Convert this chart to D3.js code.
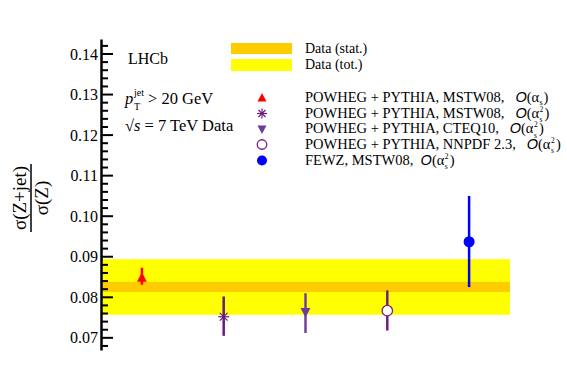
<!DOCTYPE html>
<html>
<head>
<meta charset="utf-8">
<script src="https://cdn.jsdelivr.net/npm/d3@7"></script>
<style>
  body { margin: 0; background: #fff; }
  svg text { font-family: "Liberation Serif", "DejaVu Serif", serif; fill: #000; }
</style>
</head>
<body>
<div id="chart"></div>
<script>
// ratio sigma(Z+jet)/sigma(Z) : data band and model predictions

const dataCentral = 0.0826
const dataStat = [0.0813, 0.0838]
const dataTot = [0.0757, 0.0894]

const models = ["MSTW08 O(as)", "MSTW08 O(as2)", "CTEQ10", "NNPDF 2.3", "FEWZ"]
const modelValues = [0.0848, 0.0752, 0.0764, 0.0767, 0.0937]
const modelLow = [0.0831, 0.0705, 0.0712, 0.0718, 0.0825]
const modelHigh = [0.0873, 0.0802, 0.0810, 0.0817, 0.1050]

const yTicks = [0.07, 0.08, 0.09, 0.10, 0.11, 0.12, 0.13, 0.14]

const W = 567, H = 391
const svg = d3.select("#chart").append("svg")
  .attr("width", W).attr("height", H)

const x = d3.scaleLinear().domain([0, 5]).range([101, 510])
const y = d3.scaleLinear().domain([0.067, 0.1437]).range([350, 39])

// data bands
svg.append("rect")
  .attr("x", x(0)).attr("width", x(5) - x(0))
  .attr("y", y(dataTot[1])).attr("height", y(dataTot[0]) - y(dataTot[1]))
  .attr("fill", "#ffff00")
svg.append("rect")
  .attr("x", x(0)).attr("width", x(5) - x(0))
  .attr("y", y(dataStat[1])).attr("height", y(dataStat[0]) - y(dataStat[1]))
  .attr("fill", "#ffcc00")

// y axis with major and minor ticks
const yAxis = d3.axisLeft(y).tickValues(yTicks).tickSize(0).tickPadding(3)
  .tickFormat(d3.format(".2f"))
const ga = svg.append("g").attr("transform", `translate(${x(0)},0)`).call(yAxis)
ga.attr("font-family", null).attr("font-size", null)
ga.select(".domain").attr("stroke", "#000").attr("stroke-width", 2.5)
ga.selectAll("text")
  .style("font-size", "16px")
  .style("font-family", "'Liberation Serif', 'DejaVu Serif', serif")
const minor = d3.range(0.068, 0.1437, 0.002)
svg.append("g").selectAll("line").data(minor).join("line")
  .attr("x1", x(0)).attr("x2", d => x(0) + (Math.abs(d * 100 - Math.round(d * 100)) < 1e-6 ? 12 : 7))
  .attr("y1", d => y(d)).attr("y2", d => y(d))
  .attr("stroke", "#000").attr("stroke-width", 2)

// y label as fraction
const lab = svg.append("g").attr("transform", `translate(31,198) rotate(-90)`)
lab.append("text").attr("text-anchor", "middle").attr("y", -5)
  .style("font-size", "19px").text("σ(Z+jet)")
lab.append("text").attr("text-anchor", "middle").attr("y", 17)
  .style("font-size", "19px").text("σ(Z)")
lab.append("line").attr("x1", -34).attr("x2", 34).attr("y1", 0).attr("y2", 0)
  .attr("stroke", "#000").attr("stroke-width", 1.5)

// markers
const colors = ["#ff0000", "#6a1b7a", "#6a3d9a", "#7a1f7f", "#0000ff"]
const barColors = ["#ff0000", "#6a1b7a", "#7040a0", "#70207a", "#0000ff"]

function marker(g, i, cx, cy, s) {
  const c = colors[i]
  if (i === 0) {
    g.append("path").attr("d", `M${cx},${cy - s} L${cx + s * 0.9},${cy + s * 0.7} L${cx - s * 0.9},${cy + s * 0.7}Z`).attr("fill", c)
  } else if (i === 1) {
    for (let a = 0; a < 4; a++) {
      const ang = a * Math.PI / 4
      g.append("line")
        .attr("x1", cx - s * Math.cos(ang)).attr("x2", cx + s * Math.cos(ang))
        .attr("y1", cy - s * Math.sin(ang)).attr("y2", cy + s * Math.sin(ang))
        .attr("stroke", c).attr("stroke-width", 1.2)
    }
  } else if (i === 2) {
    g.append("path").attr("d", `M${cx},${cy + s} L${cx + s * 0.9},${cy - s * 0.7} L${cx - s * 0.9},${cy - s * 0.7}Z`).attr("fill", c)
  } else if (i === 3) {
    g.append("circle").attr("cx", cx).attr("cy", cy).attr("r", s * 0.95)
      .attr("fill", "#fff").attr("stroke", c).attr("stroke-width", 1.3)
  } else {
    g.append("circle").attr("cx", cx).attr("cy", cy).attr("r", s).attr("fill", c)
  }
}

const pts = svg.append("g")
modelValues.forEach((v, i) => {
  pts.append("line")
    .attr("x1", x(i + 0.5)).attr("x2", x(i + 0.5))
    .attr("y1", y(modelLow[i])).attr("y2", y(modelHigh[i]))
    .attr("stroke", barColors[i]).attr("stroke-width", 2.5)
  marker(pts, i, x(i + 0.5), y(v), 5.5)
})

// text labels
svg.append("text").attr("x", 128).attr("y", 64).style("font-size", "16px").text("LHCb")
svg.append("text").attr("x", 125).attr("y", 104).style("font-size", "16.5px")
  .attr("font-style", "italic").text("p")
svg.append("text").attr("x", 134).attr("y", 96).style("font-size", "10px").text("jet")
svg.append("text").attr("x", 134).attr("y", 110).style("font-size", "10px").text("T")
svg.append("text").attr("x", 148).attr("y", 104).style("font-size", "16.5px").text("> 20 GeV")
const rs = svg.append("text").attr("x", 125).attr("y", 131).style("font-size", "16.5px")
rs.append("tspan").text("√")
rs.append("tspan").attr("font-style", "italic").text("s")
rs.append("tspan").text(" = 7 TeV Data")

// legend
svg.append("rect").attr("x", 231).attr("y", 43).attr("width", 61).attr("height", 11).attr("fill", "#ffcc00")
svg.append("rect").attr("x", 231).attr("y", 59).attr("width", 61).attr("height", 12).attr("fill", "#ffff00")
svg.append("text").attr("x", 305).attr("y", 53).style("font-size", "14px").text("Data (stat.)")
svg.append("text").attr("x", 305).attr("y", 69).style("font-size", "14px").text("Data (tot.)")

const legText = [
  ["POWHEG + PYTHIA, MSTW08,   ", "1"],
  ["POWHEG + PYTHIA, MSTW08,   ", "2"],
  ["POWHEG + PYTHIA, CTEQ10,   ", "2"],
  ["POWHEG + PYTHIA, NNPDF 2.3,   ", "2"],
  ["FEWZ, MSTW08,  ", "2"]
]
const legY = [98, 113.5, 129, 144.5, 160.5]
legText.forEach((t, i) => {
  const g = svg.append("g")
  marker(g, i, 262, legY[i], 5)
  const base = legY[i] + 4
  const tx = g.append("text").attr("x", 305).attr("y", base)
    .style("font-size", "14.5px").style("white-space", "pre")
  tx.append("tspan").text(t[0])
  tx.append("tspan").attr("font-style", "italic").style("font-family", "'Liberation Sans', sans-serif").text("O")
  tx.append("tspan").text("(α")
  // place scripts and closing bracket after the main text
  const w = tx.node().getComputedTextLength()
  const x0 = 305 + w
  if (t[1] === "2") {
    g.append("text").attr("x", x0 + 0.5).attr("y", base - 6).style("font-size", "7.5px").text("2")
    g.append("text").attr("x", x0 + 0.5).attr("y", base + 4.5).style("font-size", "7.5px").text("s")
    g.append("text").attr("x", x0 + 5.5).attr("y", base).style("font-size", "14.5px").text(")")
  } else {
    g.append("text").attr("x", x0 + 0.5).attr("y", base + 3).style("font-size", "8px").text("s")
    g.append("text").attr("x", x0 + 4.5).attr("y", base).style("font-size", "14.5px").text(")")
  }
})
</script>
</body>
</html>
